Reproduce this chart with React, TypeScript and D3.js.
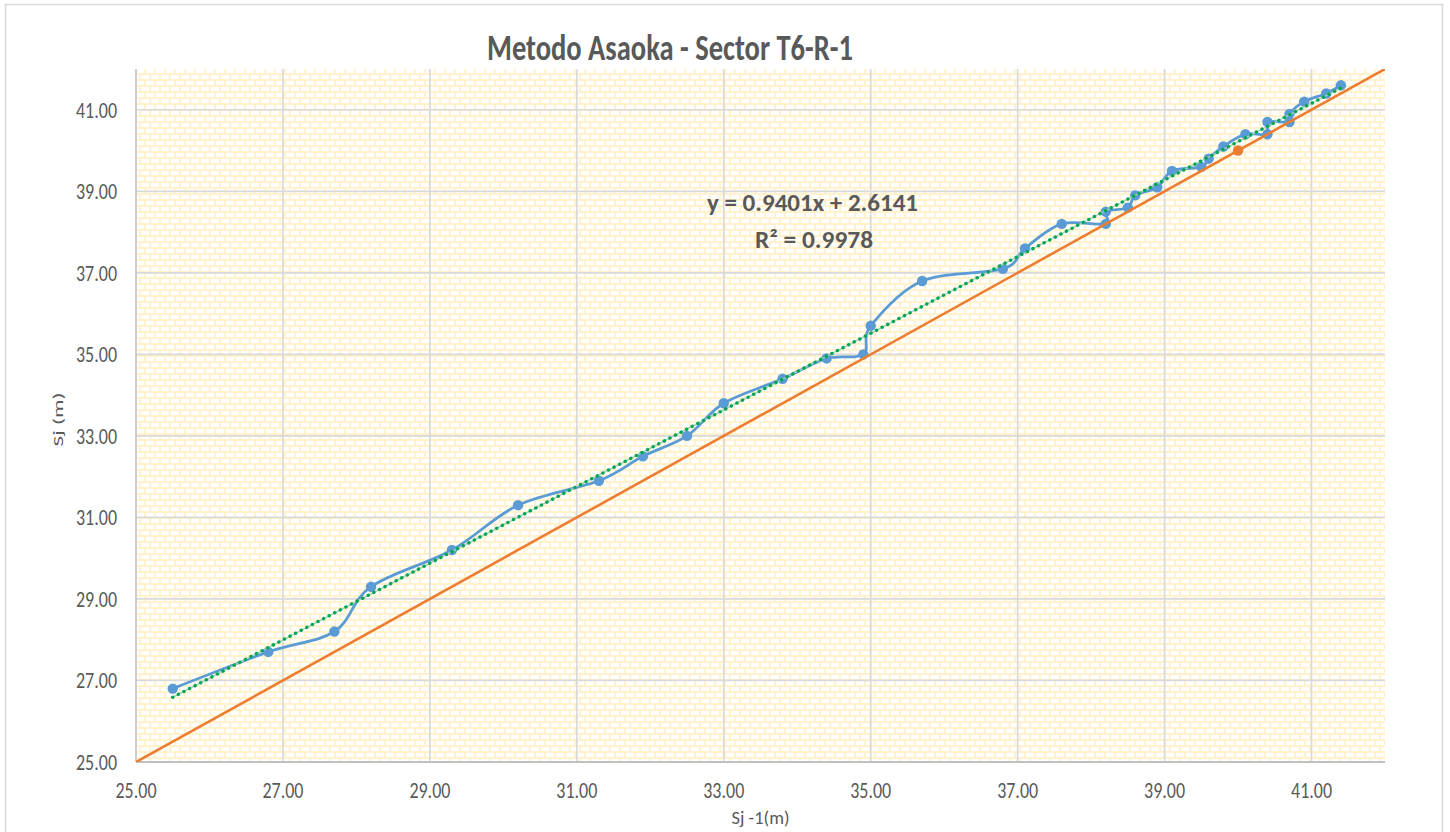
import React from 'react';
import * as d3 from 'd3';

const W = 1450;
const H = 832;

// Asaoka data: settlement at step j-1 (x) versus settlement at step j (y)
const sjPrev = [25.5, 26.8, 27.7, 28.2, 29.3, 30.2, 31.3, 31.9, 32.5, 33.0, 33.8, 34.4, 34.9, 35.0, 35.7, 36.8, 37.1, 37.6, 38.2, 38.2, 38.5, 38.6, 38.9, 39.1, 39.5, 39.6, 39.8, 40.1, 40.4, 40.4, 40.7, 40.7, 40.9, 41.2, 41.4];
const sj = [26.8, 27.7, 28.2, 29.3, 30.2, 31.3, 31.9, 32.5, 33.0, 33.8, 34.4, 34.9, 35.0, 35.7, 36.8, 37.1, 37.6, 38.2, 38.2, 38.5, 38.6, 38.9, 39.1, 39.5, 39.6, 39.8, 40.1, 40.4, 40.4, 40.7, 40.7, 40.9, 41.2, 41.4, 41.6];

// 45° reference line (Sj = Sj-1) and its marked point
const refX = [25, 42];
const refY = [25, 42];
const refPointX = [40];
const refPointY = [40];

// Linear trendline
const trendSlope = 0.9401;
const trendIntercept = 2.6141;
const trendR2 = 0.9978;

const xTicks = [25, 27, 29, 31, 33, 35, 37, 39, 41];
const yTicks = [25, 27, 29, 31, 33, 35, 37, 39, 41];
const xDomain = [25, 42];
const yDomain = [25, 42];

const title = 'Metodo Asaoka - Sector T6-R-1';
const xTitle = 'Sj -1(m)';
const yTitle = 'Sj (m)';

const FONT = "Carlito, Calibri, Lato, 'Open Sans', sans-serif";
const TXT = '#595959';

export default function App() {
  const left = 136, right = 1385, top = 69, bottom = 762;
  const x = d3.scaleLinear().domain(xDomain).range([left, right]);
  const y = d3.scaleLinear().domain(yDomain).range([bottom, top]);

  const pts: [number, number][] = sjPrev.map((v, i) => [v, sj[i]]);
  const smooth = d3
    .line<[number, number]>()
    .x((d) => x(d[0]))
    .y((d) => y(d[1]))
    .curve(d3.curveCatmullRom.alpha(0));
  const straight = d3
    .line<[number, number]>()
    .x((d) => x(d[0]))
    .y((d) => y(d[1]));

  const refPts: [number, number][] = refX.map((v, i) => [v, refY[i]]);
  const tx0 = d3.min(sjPrev) as number;
  const tx1 = d3.max(sjPrev) as number;
  const trendPts: [number, number][] = [
    [tx0, trendSlope * tx0 + trendIntercept],
    [tx1, trendSlope * tx1 + trendIntercept],
  ];

  const fmt = (v: number) => v.toFixed(2);

  return (
    <div style={{ position: 'absolute', left: 0, top: 0 }}>
      <svg width={W} height={H} style={{ display: 'block', background: '#fff' }}>
        <defs>
          <pattern id="brick" width={10} height={12} patternUnits="userSpaceOnUse" x={left} y={top}>
            <rect width={10} height={12} fill="#FFF2CC" />
            <rect x={0} y={0} width={8} height={4} fill="#ffffff" />
            <rect x={5} y={6} width={5} height={4} fill="#ffffff" />
            <rect x={0} y={6} width={3} height={4} fill="#ffffff" />
          </pattern>
          <clipPath id="plotClip">
            <rect x={left} y={top} width={right - left} height={bottom - top} />
          </clipPath>
        </defs>

        {/* chart border */}
        <rect x={5.5} y={4.5} width={1437} height={H + 10} fill="#fff" stroke="#d9d9d9" strokeWidth={1.5} />

        {/* plot area */}
        <rect x={left} y={top} width={right - left} height={bottom - top} fill="url(#brick)" />

        {/* gridlines */}
        {xTicks.filter((t) => t !== xDomain[0]).map((t) => (
          <line key={'gx' + t} x1={x(t)} x2={x(t)} y1={top} y2={bottom} stroke="#d9d9d9" strokeWidth={1.7} />
        ))}
        {yTicks.filter((t) => t !== yDomain[0]).map((t) => (
          <line key={'gy' + t} x1={left} x2={right} y1={y(t)} y2={y(t)} stroke="#d9d9d9" strokeWidth={1.7} />
        ))}
        {/* axes */}
        <line x1={left} x2={left} y1={top} y2={bottom} stroke="#c8c8c8" strokeWidth={1.8} />
        <line x1={left} x2={right} y1={bottom} y2={bottom} stroke="#bfbfbf" strokeWidth={1.8} />

        <g clipPath="url(#plotClip)">
          {/* data series */}
          <path d={smooth(pts) || ''} fill="none" stroke="#5B9BD5" strokeWidth={2.8} />
          {pts.map((p, i) => (
            <circle key={'p' + i} cx={x(p[0])} cy={y(p[1])} r={5.2} fill="#5B9BD5" />
          ))}

          {/* reference line */}
          <path d={straight(refPts) || ''} fill="none" stroke="#ED7D31" strokeWidth={2.6} />
          {refPointX.map((v, i) => (
            <circle key={'r' + i} cx={x(v)} cy={y(refPointY[i])} r={5.2} fill="#ED7D31" />
          ))}

          {/* trendline */}
          <path d={straight(trendPts) || ''} fill="none" stroke="#9fcfc0" strokeWidth={1.4} />
          <path
            d={straight(trendPts) || ''}
            fill="none"
            stroke="#00A651"
            strokeWidth={3.4}
            strokeLinecap="round"
            strokeDasharray="0.1 6.2"
          />
        </g>

        {/* tick labels */}
        {yTicks.map((t) => (
          <text
            key={'ly' + t}
            x={117}
            y={y(t) + 7.8}
            textAnchor="end"
            fontFamily={FONT}
            fontSize={22}
            fill={TXT}
            textLength={41}
            lengthAdjust="spacingAndGlyphs"
          >
            {fmt(t)}
          </text>
        ))}
        {xTicks.map((t) => (
          <text
            key={'lx' + t}
            x={x(t)}
            y={798}
            textAnchor="middle"
            fontFamily={FONT}
            fontSize={22}
            fill={TXT}
            textLength={41}
            lengthAdjust="spacingAndGlyphs"
          >
            {fmt(t)}
          </text>
        ))}

        {/* title */}
        <text
          x={670}
          y={60}
          textAnchor="middle"
          fontFamily={FONT}
          fontWeight={700}
          fontSize={36}
          fill={TXT}
          textLength={366}
          lengthAdjust="spacingAndGlyphs"
        >
          {title}
        </text>

        {/* trend equation */}
        <text
          x={812.5}
          y={211}
          textAnchor="middle"
          fontFamily={FONT}
          fontWeight={700}
          fontSize={24.5}
          fill={TXT}
          textLength={211}
          lengthAdjust="spacingAndGlyphs"
        >
          {`y = ${trendSlope.toFixed(4)}x + ${trendIntercept.toFixed(4)}`}
        </text>
        <text
          x={814}
          y={248}
          textAnchor="middle"
          fontFamily={FONT}
          fontWeight={700}
          fontSize={24.5}
          fill={TXT}
          textLength={118}
          lengthAdjust="spacingAndGlyphs"
        >
          {`R² = ${trendR2.toFixed(4)}`}
        </text>

        {/* axis titles */}
        <text
          x={(left + right) / 2}
          y={824}
          textAnchor="middle"
          fontFamily={FONT}
          fontSize={19}
          fill={TXT}
          textLength={58}
          lengthAdjust="spacingAndGlyphs"
        >
          {xTitle}
        </text>
        <text
          transform={`translate(58,${(top + bottom) / 2 + 4}) rotate(-90) scale(1,0.72)`}
          textAnchor="middle"
          dominantBaseline="central"
          fontFamily={FONT}
          fontSize={19}
          fill={TXT}
          textLength={54}
          lengthAdjust="spacingAndGlyphs"
        >
          {yTitle}
        </text>
      </svg>
    </div>
  );
}
